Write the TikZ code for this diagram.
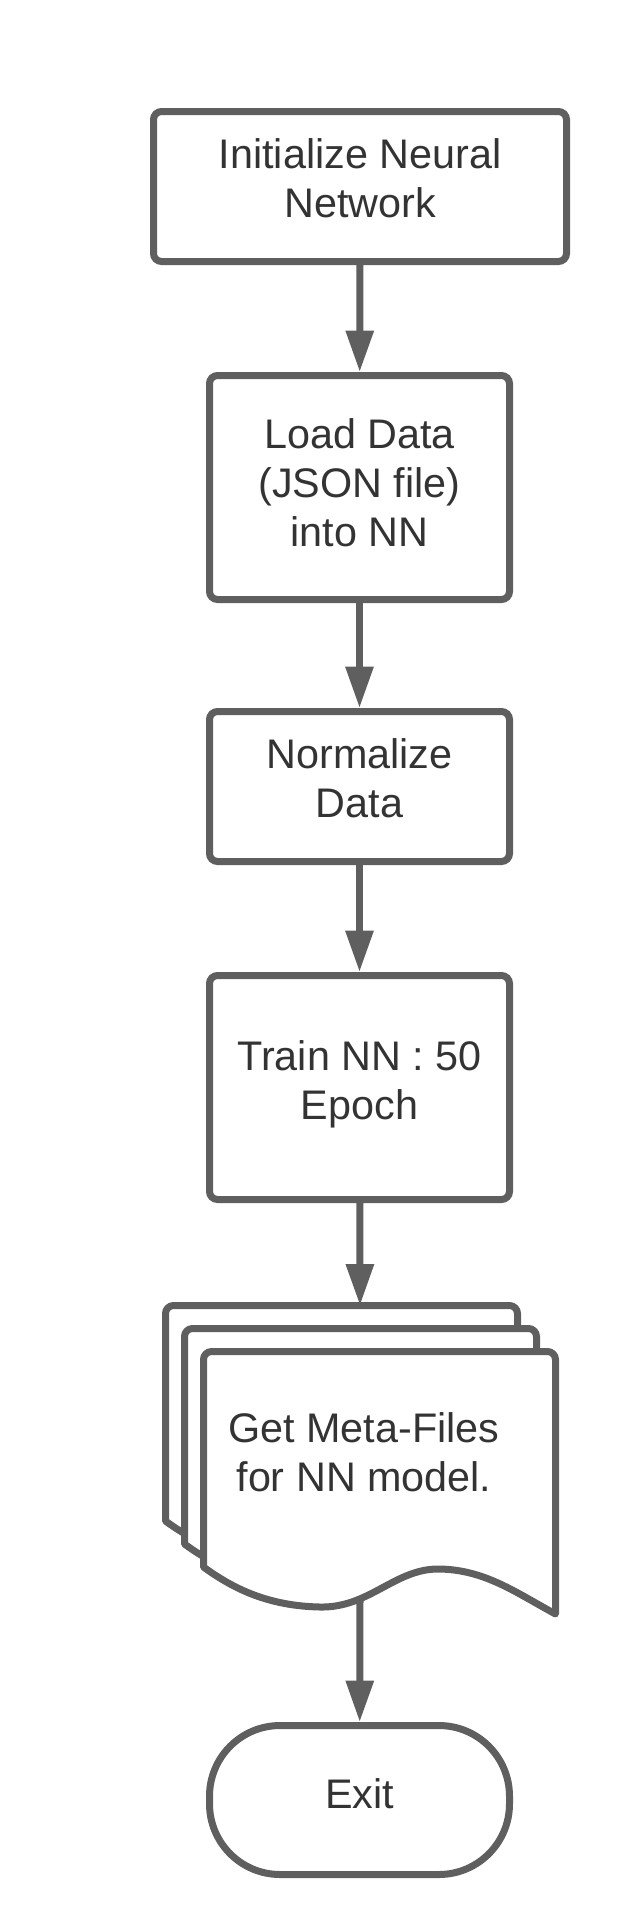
\documentclass[tikz,border=0pt]{standalone}
\usepackage{fontspec}
\setmainfont{Liberation Sans}
\usepackage{xcolor}
\usetikzlibrary{arrows.meta,positioning,calc}
\definecolor{edge}{HTML}{5F5F5F}
\definecolor{ink}{HTML}{333333}
\tikzset{
  flowbox/.style={draw=edge,fill=white,line width=5.25pt,rounded corners=6pt,
                  minimum width=225pt,align=center,text=ink,inner sep=0pt,text depth=13pt,
                  font=\fontsize{31}{36.75}\selectfont},
  endbox/.style={draw=edge,fill=white,line width=5.25pt,rounded corners=53pt,
                 minimum width=225pt,minimum height=111.75pt,align=center,text=ink,
                 inner sep=0pt,text depth=9pt,font=\fontsize{31}{36.75}\selectfont},
  docsheet/.style={draw=edge,fill=white,line width=5.25pt,line join=round},
  flowarr/.style={-{Triangle[length=31pt,width=20pt]},draw=edge,line width=5.25pt}
}
\begin{document}
\begin{tikzpicture}[x=0.75pt,y=-0.75pt]
  \useasboundingbox (0,0) rectangle (643,1927);
  \node[flowbox,minimum width=309.75pt,minimum height=112.5pt] (init) at (360,186.5) {Initialize Neural\\Network};
  \node[flowbox,minimum height=168pt,text depth=7.5pt] (load) at (359.5,487.5) {Load Data\\(JSON file)\\into NN};
  \node[flowbox,minimum height=112.5pt] (norm) at (359.5,786.5) {Normalize\\Data};
  \node[flowbox,minimum height=168pt,text depth=11pt] (train) at (359.5,1087.5) {Train NN : 50\\Epoch};

  % stacked meta-file sheets
  \draw[docsheet,shift={(-38,-46)}] (203.5,1567) [rounded corners=6pt] -- (203.5,1351.5) -- (555.5,1351.5) [sharp corners] -- (555.5,1614)
    .. controls (515,1592) and (485,1570) .. (440,1569) .. controls (395,1568) and (370,1608) .. (320,1607)
    .. controls (270,1606) and (235,1590) .. (203.5,1567) -- cycle;
  \draw[docsheet,shift={(-19,-23)}] (203.5,1567) [rounded corners=6pt] -- (203.5,1351.5) -- (555.5,1351.5) [sharp corners] -- (555.5,1614)
    .. controls (515,1592) and (485,1570) .. (440,1569) .. controls (395,1568) and (370,1608) .. (320,1607)
    .. controls (270,1606) and (235,1590) .. (203.5,1567) -- cycle;
  \draw[docsheet] (203.5,1567) [rounded corners=6pt] -- (203.5,1351.5) -- (555.5,1351.5) [sharp corners] -- (555.5,1614)
    .. controls (515,1592) and (485,1570) .. (440,1569) .. controls (395,1568) and (370,1608) .. (320,1607)
    .. controls (270,1606) and (235,1590) .. (203.5,1567) -- cycle;
  \node[align=center,text=ink,inner sep=0pt,font=\fontsize{31}{36.75}\selectfont] (meta) at (364,1452) {Get Meta-Files\\for NN model.};
  \coordinate (metatop) at (360,1305.5);
  \coordinate (metabot) at (360,1601);

  \node[endbox] (exit) at (359.5,1800) {Exit};

  \draw[flowarr] (init)--(load);
  \draw[flowarr] (load)--(norm);
  \draw[flowarr] (norm)--(train);
  \draw[flowarr] (train)--(metatop);
  \draw[flowarr] (metabot)--(exit);
\end{tikzpicture}
\end{document}
